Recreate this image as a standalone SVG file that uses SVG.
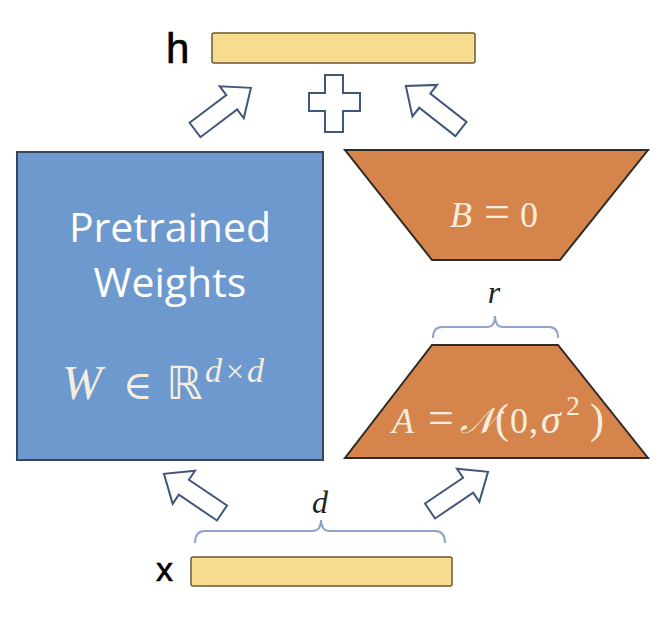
<svg xmlns="http://www.w3.org/2000/svg" width="668" height="624" viewBox="0 0 668 624">
<style>
.bar{fill:#f8dc90;stroke:#6b5a30;stroke-width:1.5}
.trap{fill:#d5844c;stroke:#2e2a26;stroke-width:2}
.arr{fill:#ffffff;stroke:#41577a;stroke-width:2;stroke-linejoin:miter}
.brace{fill:none;stroke:#8fa3c8;stroke-width:2}
.lbl{font-family:"Liberation Sans",Arial,sans-serif;fill:#000;stroke:#000;stroke-width:0.6}
.math{font-family:"Liberation Serif","DejaVu Serif",serif;font-style:italic;fill:#f6eedd}
.up{font-style:normal}
.mlbl{font-family:"Liberation Serif","DejaVu Serif",serif;font-style:italic;fill:#222}
.wt{font-family:"Open Sans","Liberation Sans",sans-serif;fill:#ffffff}
</style>
<defs>
<path id="blk" d="M0,-9 H46 V-20 L70,0 L46,20 V9 H0 Z"/>
</defs>
<rect width="668" height="624" fill="#ffffff"/>

<g id="h">
<rect class="bar" x="212" y="33" width="263" height="30" rx="2"/>
<text class="lbl" x="166" y="63" font-size="42">h</text>
</g>

<g id="plus">
<path class="arr" d="M325,75 H343 V93 H360 V111 H343 V132 H325 V111 H309 V93 H325 Z"/>
</g>

<g id="W">
<rect x="17" y="152" width="306" height="308" fill="#6e99cf" stroke="#35465e" stroke-width="2"/>
<text class="wt" x="170" y="242" font-size="41" text-anchor="middle">Pretrained</text>
<text class="wt" x="170" y="297" font-size="41" text-anchor="middle">Weights</text>
<text class="math" y="399" font-size="48"><tspan x="62">W</tspan><tspan class="up" x="123" font-family="DejaVu Serif,serif" font-size="40">∈</tspan><tspan class="up" x="166" font-family="DejaVu Sans,sans-serif" font-size="46">ℝ</tspan><tspan x="205" y="382" font-size="34">d</tspan><tspan class="up" x="226" y="382" font-size="32">×</tspan><tspan x="247" y="382" font-size="34">d</tspan></text>
</g>

<g id="B">
<polygon class="trap" points="345,150 648,150 560,260 432,260"/>
<text class="math" y="227" font-size="36"><tspan x="450">B</tspan><tspan class="up" x="484" font-size="46">=</tspan><tspan class="up" x="520">0</tspan></text>
</g>

<g id="A">
<polygon class="trap" points="432,345 558,345 648,458 345,458"/>
<text class="math" y="433" font-size="36"><tspan x="392">A</tspan><tspan class="up" x="428" font-size="46">=</tspan><tspan x="460">𝒩</tspan><tspan class="up" x="495" font-size="42">(</tspan><tspan class="up" x="510">0</tspan><tspan class="up" x="529">,</tspan><tspan x="541" font-size="40">σ</tspan><tspan class="up" x="566" y="415" font-size="28">2</tspan><tspan class="up" x="590" y="433" font-size="42">)</tspan></text>
</g>

<g id="x">
<rect class="bar" x="191" y="557" width="261" height="29" rx="2"/>
<text class="lbl" x="156" y="581" font-size="34">x</text>
</g>

<g id="braces">
<path class="brace" d="M195,543 Q195,531 205,531 H312 Q321,531 321,520 Q321,531 330,531 H435 Q445,531 445,543"/>
<text class="mlbl" x="320" y="513" font-size="32" text-anchor="middle">d</text>
<path class="brace" d="M433,338 Q433,327 442,327 H487 Q495,327 495,316 Q495,327 503,327 H549 Q558,327 558,338"/>
<text class="mlbl" x="494" y="303" font-size="32" text-anchor="middle">r</text>
</g>

<g id="connectors">
<use href="#blk" class="arr" transform="translate(195,130) rotate(-37)"/>
<use href="#blk" class="arr" transform="translate(461,129) rotate(-142)"/>
<use href="#blk" class="arr" transform="translate(222,513) rotate(-146)"/>
<use href="#blk" class="arr" transform="translate(430,511) rotate(-34)"/>
</g>
</svg>
